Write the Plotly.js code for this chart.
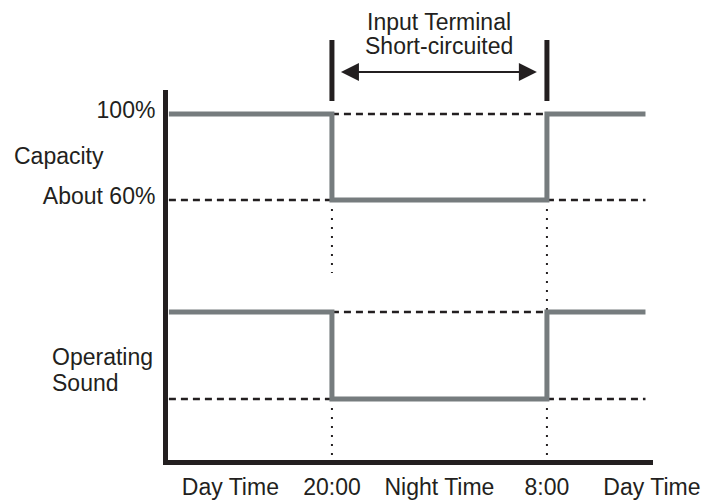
<!DOCTYPE html>
<html>
<head>
<meta charset="utf-8">
<script src="https://cdn.plot.ly/plotly-3.0.1.min.js"></script>
<style>html,body{margin:0;padding:0;background:#fff;}#chart{width:705px;height:502px;}</style>
</head>
<body>
<div id="chart"></div>
<script>
// ---- data (hours on a continuous clock: 20 = 20:00, 32 = 8:00 next day) ----
const hours = [10.9, 20, 32, 37.5];          // start, 20:00, 8:00, end
const capacity = [100, 60, 100, 100];        // % capacity
const sound = [1, 0, 1, 1];                  // operating sound level (high / low)
const capTickVals = [100, 60];
const capTickText = ['100%', 'About 60%'];
const timeTickVals = [14.33, 20, 26, 32, 37.86];
const timeTickText = ['Day Time', '20:00', 'Night Time', '8:00', 'Day Time'];
const switchHours = [20, 32];                // input terminal short-circuited between these
const dotUpperEnds = [26, 8];                // lower end (capacity %) of upper guide dots
const dotLowerEnd = -0.67;                   // lower end (sound units) of lower guide dots
const sideLabels = ['Capacity', 'Operating', 'Sound'];
const noteLines = ['Input Terminal', 'Short-circuited'];

const INK = '#231f20';
const GRAY = '#767c7e';
const FONT = 'Liberation Sans, Arial, sans-serif';

function dashedFor(levels, axis) {
  const hi = Math.max(...levels), lo = Math.min(...levels);
  const x = [switchHours[0], switchHours[1], null, hours[0], switchHours[0], null, switchHours[1], hours[hours.length-1]];
  const y = [hi, hi, null, lo, lo, null, lo, lo];
  return {x, y, yaxis: axis, mode: 'lines', line: {color: INK, width: 2.5, dash: '7px,5px'}, hoverinfo: 'skip'};
}

const capLow = Math.min(...capacity);
const traces = [
  dashedFor(capacity, 'y'),
  dashedFor(sound, 'y2'),
  // upper dotted guides
  {x: [switchHours[0], switchHours[0], null, switchHours[1], switchHours[1]],
   y: [capLow, dotUpperEnds[0], null, capLow, dotUpperEnds[1]],
   yaxis: 'y', mode: 'lines', line: {color: INK, width: 2, dash: '2px,7px'}, hoverinfo: 'skip'},
  // lower dotted guides
  {x: [switchHours[0], switchHours[0], null, switchHours[1], switchHours[1]],
   y: [Math.min(...sound), dotLowerEnd, null, Math.min(...sound), dotLowerEnd],
   yaxis: 'y2', mode: 'lines', line: {color: INK, width: 2, dash: '2px,7px'}, hoverinfo: 'skip'},
  // step lines
  {x: hours, y: capacity, yaxis: 'y', mode: 'lines', line: {color: GRAY, width: 5, shape: 'hv'}, hoverinfo: 'skip'},
  {x: hours, y: sound, yaxis: 'y2', mode: 'lines', line: {color: GRAY, width: 5, shape: 'hv'}, hoverinfo: 'skip'}
];

const L = 168, R = 52, T = 90, B = 42;
const plotW = 705 - L - R, plotH = 502 - T - B;
const px2paperX = p => (p - L) / plotW;
const px2paperY = p => (502 - B - p) / plotH;

// black marker bars at the switching times (x in data, y above the plot area)
const shapes = switchHours.map(h => ({
  type: 'line', xref: 'x', yref: 'paper', x0: h, x1: h, y0: px2paperY(101), y1: px2paperY(40),
  line: {color: INK, width: 5}, layer: 'above'
}));

const annotations = [
  // double-headed arrow
  {xref: 'x', yref: 'paper', axref: 'x', ayref: 'pixel', x: 31.44, ax: 20.42, y: px2paperY(72), ay: 0,
   text: '', showarrow: true, arrowside: 'end+start', arrowhead: 2, startarrowhead: 2,
   arrowwidth: 2, arrowsize: 1.8, startarrowsize: 1.8, arrowcolor: INK, standoff: 0, startstandoff: 0},
  {xref: 'x', yref: 'paper', x: (switchHours[0] + switchHours[1]) / 2, y: px2paperY(21.5), text: noteLines[0],
   showarrow: false, xanchor: 'center', yanchor: 'middle', font: {size: 23, color: INK, family: FONT}},
  {xref: 'x', yref: 'paper', x: (switchHours[0] + switchHours[1]) / 2, y: px2paperY(46.5), text: noteLines[1],
   showarrow: false, xanchor: 'center', yanchor: 'middle', font: {size: 23, color: INK, family: FONT}},
  {xref: 'paper', yref: 'paper', x: px2paperX(12), y: px2paperY(156), text: sideLabels[0],
   showarrow: false, xanchor: 'left', yanchor: 'middle', font: {size: 23, color: INK, family: FONT}},
  {xref: 'paper', yref: 'paper', x: px2paperX(50), y: px2paperY(356.5), text: sideLabels[1],
   showarrow: false, xanchor: 'left', yanchor: 'middle', font: {size: 23, color: INK, family: FONT}},
  {xref: 'paper', yref: 'paper', x: px2paperX(50), y: px2paperY(382.5), text: sideLabels[2],
   showarrow: false, xanchor: 'left', yanchor: 'middle', font: {size: 23, color: INK, family: FONT}}
];

const layout = {
  width: 705, height: 502,
  margin: {l: L, r: R, t: T, b: B, pad: 0},
  paper_bgcolor: '#ffffff', plot_bgcolor: '#ffffff',
  showlegend: false,
  font: {family: FONT, color: INK, size: 23},
  xaxis: {range: [10.85, 37.92], showgrid: false, zeroline: false, showline: true, linewidth: 5, linecolor: INK,
          ticks: '', tickvals: timeTickVals, ticktext: timeTickText, tickfont: {size: 23, color: INK},
          ticklabeloverflow: 'allow', ticklabelstandoff: 2, fixedrange: true},
  yaxis: {range: [-60.93, 111.16], showgrid: false, zeroline: false, showline: true, linewidth: 5, linecolor: INK,
          ticks: '', tickvals: capTickVals, ticktext: capTickText, tickfont: {size: 23, color: INK},
          ticklabelshift: -4, ticklabelstandoff: 3, fixedrange: true},
  yaxis2: {range: [-0.701, 3.552], overlaying: 'y', visible: false, fixedrange: true},
  shapes: shapes,
  annotations: annotations
};

Plotly.newPlot('chart', traces, layout, {displayModeBar: false, staticPlot: true});
</script>
</body>
</html>
